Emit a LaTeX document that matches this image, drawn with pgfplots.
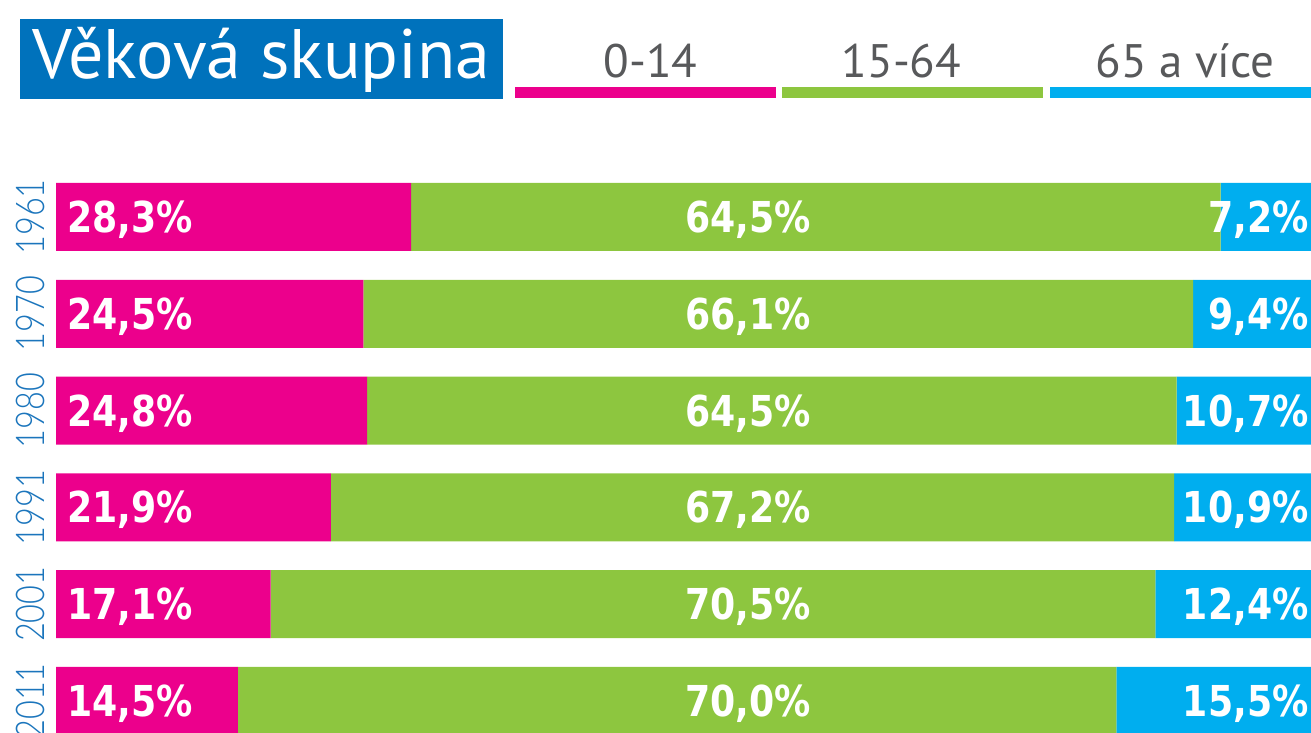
\documentclass[border=0pt]{standalone}
\usepackage{pgfplots}
\usepackage{pgfplotstable}
\pgfplotsset{compat=1.18}
\usepackage{fontspec}
\setmainfont{PT Sans}
\newfontfamily\barfont[FakeStretch=0.85]{DejaVu Sans}
\newfontfamily\yearfont[FakeStretch=0.82]{Lato Light}
\definecolor{cpink}{HTML}{EC008C}
\definecolor{cgreen}{HTML}{8DC63F}
\definecolor{cblue}{HTML}{00AEEF}
\definecolor{ctitle}{HTML}{0072BC}
\definecolor{cyear}{HTML}{1B75BC}
\definecolor{cgray}{HTML}{58595B}
\tikzset{lab/.style={inner sep=0pt, text=white, font=\barfont\bfseries\fontsize{21.3}{26}\selectfont}}

\pgfplotstableread{
idx year young adult old
0 1961 28.3 64.5 7.2
1 1970 24.5 66.1 9.4
2 1980 24.8 64.5 10.7
3 1991 21.9 67.2 10.9
4 2001 17.1 70.5 12.4
5 2011 14.5 70.0 15.5
}\datatable

\begin{document}
\begin{tikzpicture}
\useasboundingbox (0,0) rectangle (655.5pt,-366.5pt);
\begin{scope}[x=0.5pt,y=-0.5pt]
  \fill[ctitle] (20,19) rectangle (503,99);
  \node[anchor=base west, inner sep=0pt, text=white, font=\fontsize{35}{40}\selectfont] at (32,79) {Věková skupina};
  \fill[cpink] (515,87) rectangle (776,98);
  \fill[cgreen] (782,87) rectangle (1043,98);
  \fill[cblue] (1050,87) rectangle (1311,98);
  \node[anchor=base, inner sep=0pt, text=cgray, font=\fontsize{23.5}{28}\selectfont] at (650.5,78) {0-14};
  \node[anchor=base, inner sep=0pt, text=cgray, font=\fontsize{23.5}{28}\selectfont] at (901.5,78) {15-64};
  \node[anchor=base, inner sep=0pt, text=cgray, font=\fontsize{23.5}{28}\selectfont] at (1185,78) {65 a více};
\end{scope}
\begin{axis}[
  at={(28pt,-74.6pt)}, anchor=north west,
  xbar stacked, bar width=34pt,
  x=6.275pt, y=48.4pt, y dir=reverse,
  xmin=0, xmax=100, ymin=-0.7, ymax=5.7,
  axis line style={draw=none}, major tick length=0pt,
  xtick=\empty, ytick={0,...,5},
  yticklabels={1961,1970,1980,1991,2001,2011},
  yticklabel style={rotate=90, anchor=south, inner xsep=0pt, inner ysep=5.5pt,
    font=\yearfont\fontsize{19.8}{22}\selectfont, text=cyear},
  clip=false,
  after end axis/.code={
    \node[lab, anchor=base west] at (axis cs:0.88,0.16) {28,3\%};
    \node[lab, anchor=base west] at (axis cs:0.88,1.16) {24,5\%};
    \node[lab, anchor=base west] at (axis cs:0.88,2.16) {24,8\%};
    \node[lab, anchor=base west] at (axis cs:0.88,3.16) {21,9\%};
    \node[lab, anchor=base west] at (axis cs:0.88,4.16) {17,1\%};
    \node[lab, anchor=base west] at (axis cs:0.88,5.16) {14,5\%};
    \node[lab, anchor=base] at (axis cs:55.14,0.16) {64,5\%};
    \node[lab, anchor=base] at (axis cs:55.14,1.16) {66,1\%};
    \node[lab, anchor=base] at (axis cs:55.14,2.16) {64,5\%};
    \node[lab, anchor=base] at (axis cs:55.14,3.16) {67,2\%};
    \node[lab, anchor=base] at (axis cs:55.14,4.16) {70,5\%};
    \node[lab, anchor=base] at (axis cs:55.14,5.16) {70,0\%};
    \node[lab, anchor=base east] at (axis cs:99.84,0.16) {7,2\%};
    \node[lab, anchor=base east] at (axis cs:99.84,1.16) {9,4\%};
    \node[lab, anchor=base east] at (axis cs:99.84,2.16) {10,7\%};
    \node[lab, anchor=base east] at (axis cs:99.84,3.16) {10,9\%};
    \node[lab, anchor=base east] at (axis cs:99.84,4.16) {12,4\%};
    \node[lab, anchor=base east] at (axis cs:99.84,5.16) {15,5\%};
  },
]
\addplot[fill=cpink, draw=none] table[x=young, y=idx]{\datatable};
\addplot[fill=cgreen, draw=none] table[x=adult, y=idx]{\datatable};
\addplot[fill=cblue, draw=none] table[x=old, y=idx]{\datatable};
\end{axis}
\end{tikzpicture}
\end{document}
